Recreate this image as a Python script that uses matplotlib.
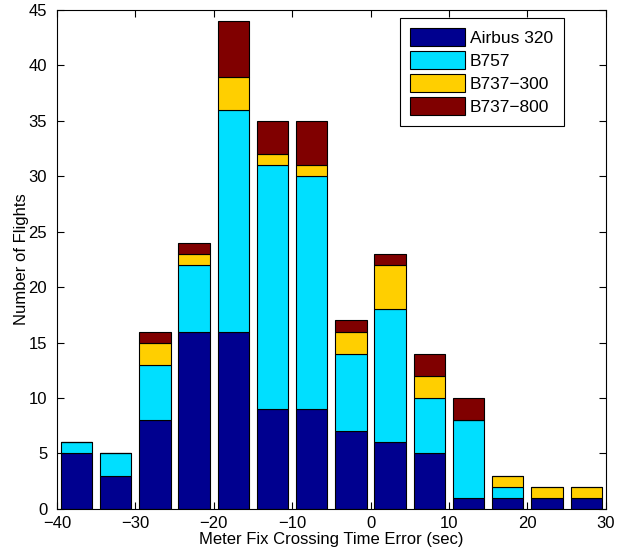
import numpy as np
import matplotlib.pyplot as plt

plt.rcParams['font.family'] = ['Liberation Sans', 'DejaVu Sans']

# bin centres (sec) and counts per aircraft type
centers = [-37.5, -32.5, -27.5, -22.5, -17.5, -12.5, -7.5, -2.5, 2.5, 7.5, 12.5, 17.5, 22.5, 27.5]
airbus320 = [5, 3, 8, 16, 16, 9, 9, 7, 6, 5, 1, 1, 1, 1]
b757 = [1, 2, 5, 6, 20, 22, 21, 7, 12, 5, 7, 1, 0, 0]
b737_300 = [0, 0, 2, 1, 3, 1, 1, 2, 4, 2, 0, 1, 1, 1]
b737_800 = [0, 0, 1, 1, 5, 3, 4, 1, 1, 2, 2, 0, 0, 0]

series = [airbus320, b757, b737_300, b737_800]
labels = ['Airbus 320', 'B757', 'B737\u2212300', 'B737\u2212800']
colors = ['#00008f', '#00dfff', '#ffcf00', '#800000']

fig = plt.figure(figsize=(6.33, 5.58), dpi=100)
ax = fig.add_axes([0.090, 0.088, 0.867, 0.894])

bottom = np.zeros(len(centers))
for vals, lab, c in zip(series, labels, colors):
    ax.bar(centers, vals, width=4, bottom=bottom, color=c, edgecolor='black',
           linewidth=0.8, label=lab)
    bottom += np.array(vals)

ax.set_xlim(-40, 30)
ax.set_ylim(0, 45)
ax.set_xticks(np.arange(-40, 31, 10))
ax.set_yticks(np.arange(0, 46, 5))
ax.set_xticklabels([str(v).replace('-', '\u2212') for v in range(-40, 31, 10)])
ax.tick_params(direction='in', top=True, right=True, labelsize=12, length=5)
ax.tick_params(axis='y', pad=7)
ax.tick_params(axis='x', pad=5)
ax.set_xlabel('Meter Fix Crossing Time Error (sec)', fontsize=12, labelpad=1)
ax.set_ylabel('Number of Flights', fontsize=12, labelpad=0)

leg = ax.legend(loc='upper right', bbox_to_anchor=(0.923, 0.984), borderaxespad=0,
                fontsize=12.5, fancybox=False, framealpha=1, edgecolor='black',
                handlelength=3.15, handleheight=1.2, borderpad=0.6, labelspacing=0.3,
                handletextpad=0.3)
leg.get_frame().set_linewidth(0.8)

plt.savefig('out.png', dpi=100)
